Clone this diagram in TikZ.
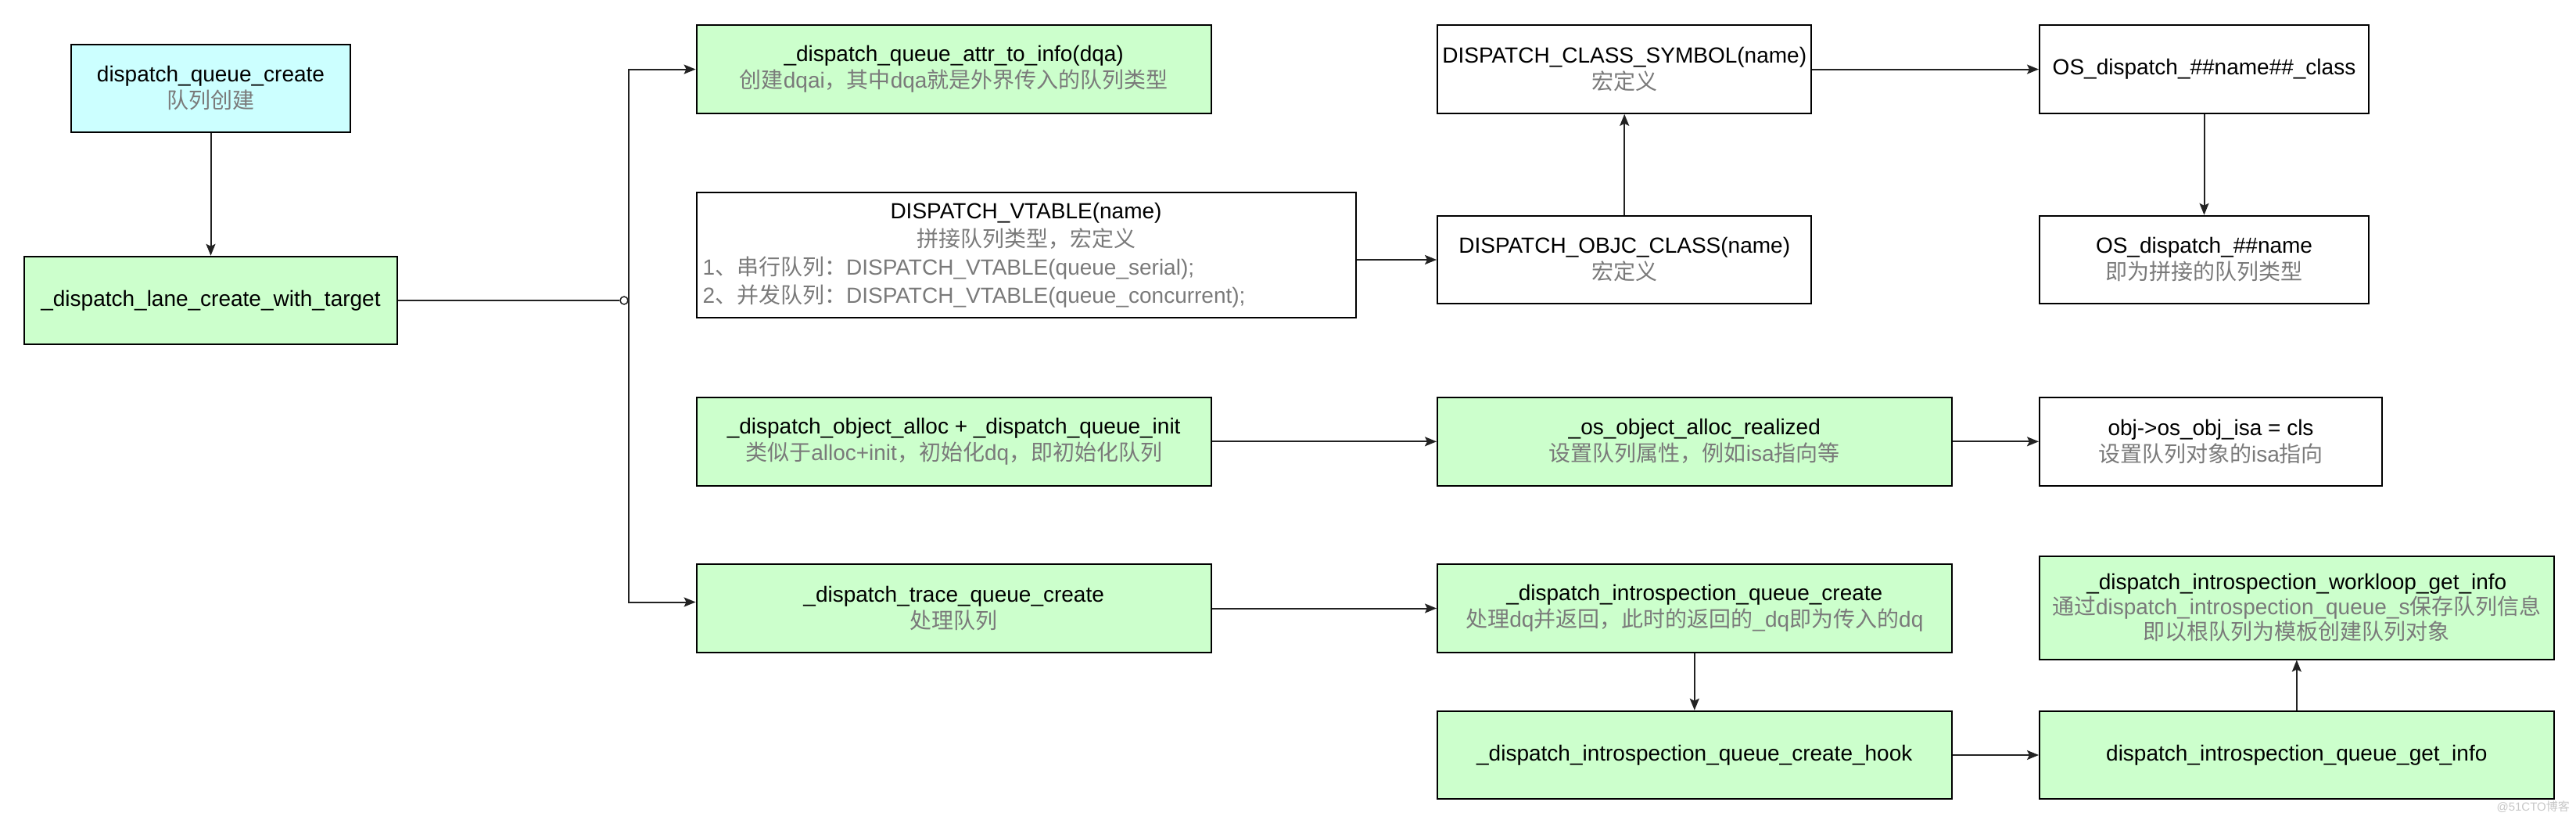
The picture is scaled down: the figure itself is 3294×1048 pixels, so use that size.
\documentclass[tikz,border=0pt]{standalone}
\usepackage{fontspec}
\setmainfont{Liberation Sans}
\newfontfamily\cjkfont{Noto Sans CJK SC}
\usetikzlibrary{arrows.meta}
\definecolor{boxgreen}{HTML}{CCFFCC}
\definecolor{boxcyan}{HTML}{CCFFFF}
\definecolor{subgray}{HTML}{7A7A7A}
\definecolor{linegray}{HTML}{222222}
\newcommand{\zh}[1]{{\cjkfont #1}}
\newcommand{\gt}[1]{\textcolor{subgray}{#1}}
\begin{document}
\begin{tikzpicture}[x=1pt,y=-1pt,
  font=\fontsize{28pt}{34pt}\selectfont,
  box/.style={draw=black, line width=2pt, align=center, inner sep=4pt, minimum height=112.5pt, text=black},
  greenbox/.style={box, fill=boxgreen},
  whitebox/.style={box, fill=white},
  cyanbox/.style={box, fill=boxcyan},
  conn/.style={draw=linegray, line width=2pt, -{Stealth[length=15pt,width=12pt,inset=3pt]}},
  plainline/.style={draw=linegray, line width=2pt}]
\fill[white] (0,0) rectangle (3294,1048);
\useasboundingbox (0,0) rectangle (3294,1048);

\node[cyanbox, minimum width=357.6pt] (dqc) at (269.5,113) {dispatch\_queue\_create\\\gt{\zh{队列创建}}};
\node[greenbox, minimum width=477pt] (lane) at (269.5,384) {\_dispatch\_lane\_create\_with\_target};

\node[greenbox, minimum width=658.2pt] (attr) at (1219.7,88.6) {\_dispatch\_queue\_attr\_to\_info(dqa)\\\gt{\zh{创建}dqai\zh{，其中}dqa\zh{就是外界传入的队列类型}}};
\node[whitebox, minimum width=843pt, minimum height=160pt, text width=827pt, align=left, inner xsep=8pt, font=\fontsize{28pt}{36pt}\selectfont] (vt) at (1312,326) {\makebox[\hsize][c]{DISPATCH\_VTABLE(name)}\\
\makebox[\hsize][c]{\gt{\zh{拼接队列类型，宏定义}}}\\
\gt{1\zh{、串行队列：}DISPATCH\_VTABLE(queue\_serial);}\\
\gt{2\zh{、并发队列：}DISPATCH\_VTABLE(queue\_concurrent);}};

\node[whitebox, minimum width=478.3pt] (sym) at (2077.2,88.6) {DISPATCH\_CLASS\_SYMBOL(name)\\\gt{\zh{宏定义}}};
\node[whitebox, minimum width=421pt] (oscls) at (2818.5,88.6) {OS\_dispatch\_\#\#name\#\#\_class};
\node[whitebox, minimum width=478.3pt] (objc) at (2077.2,332) {DISPATCH\_OBJC\_CLASS(name)\\\gt{\zh{宏定义}}};
\node[whitebox, minimum width=421pt] (osname) at (2818.5,332) {OS\_dispatch\_\#\#name\\\gt{\zh{即为拼接的队列类型}}};

\node[greenbox, minimum width=658.2pt] (alloc) at (1219.7,564.3) {\_dispatch\_object\_alloc + \_dispatch\_queue\_init\\\gt{\zh{类似于}alloc+init\zh{，初始化}dq\zh{，即初始化队列}}};
\node[greenbox, minimum width=657.6pt] (real) at (2166.8,564.3) {\_os\_object\_alloc\_realized\\\gt{\zh{设置队列属性，例如}isa\zh{指向等}}};
\node[whitebox, minimum width=438pt] (isa) at (2827,564.3) {obj->os\_obj\_isa = cls\\\gt{\zh{设置队列对象的}isa\zh{指向}}};

\node[greenbox, minimum width=658.2pt] (trace) at (1219.7,777.5) {\_dispatch\_trace\_queue\_create\\\gt{\zh{处理队列}}};
\node[greenbox, minimum width=657.6pt] (iqc) at (2166.8,777.5) {\_dispatch\_introspection\_queue\_create\\\gt{\zh{处理}dq\zh{并返回，此时的返回的}\_dq\zh{即为传入的}dq}};
\node[greenbox, minimum width=657.6pt] (hook) at (2166.8,965) {\_dispatch\_introspection\_queue\_create\_hook};
\node[greenbox, minimum width=657.5pt] (getinfo) at (2936.8,965) {dispatch\_introspection\_queue\_get\_info};
\node[greenbox, minimum width=657.5pt, minimum height=131.5pt, font=\fontsize{28pt}{32pt}\selectfont] (workloop) at (2936.8,776.8) {\_dispatch\_introspection\_workloop\_get\_info\\\gt{\zh{通过}dispatch\_introspection\_queue\_s\zh{保存队列信息}}\\\gt{\zh{即以根队列为模板创建队列对象}}};

\node[circle, draw=linegray, fill=white, line width=1.5pt, minimum size=10pt, inner sep=0pt] (jn) at (798,384) {};

\draw[plainline] (lane.east) -- (jn.west);
\draw[conn] (jn.east) |- (attr.west);
\draw[conn] (jn.east) |- ([yshift=8pt]trace.west);
\draw[conn] (dqc) -- (lane);
\draw[conn] (vt.east |- objc.west) -- (objc.west);
\draw[conn] (objc) -- (sym);
\draw[conn] (sym) -- (oscls);
\draw[conn] (oscls) -- (osname);
\draw[conn] (alloc) -- (real);
\draw[conn] (real) -- (isa);
\draw[conn] (trace) -- (iqc);
\draw[conn] (iqc) -- (hook);
\draw[conn] (hook) -- (getinfo);
\draw[conn] (getinfo) -- (workloop);

\node[text=black!22, font=\fontsize{15pt}{15pt}\selectfont, anchor=east, inner sep=0pt] (wm) at (3286,1031) {@51CTO\zh{博客}};
\end{tikzpicture}
\end{document}
